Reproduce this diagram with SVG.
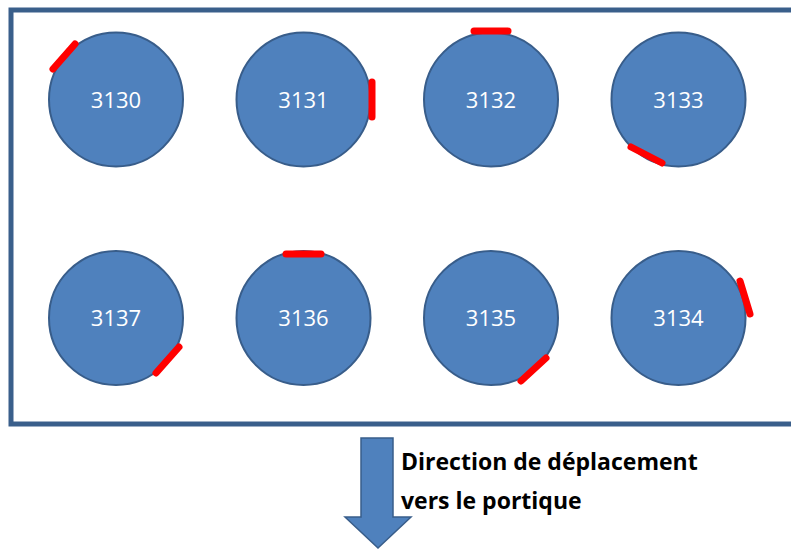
<svg xmlns="http://www.w3.org/2000/svg" width="791" height="550" viewBox="0 0 791 550">
<style>
.c{fill:#4F81BD;stroke:#385D8A;stroke-width:2}
.m{stroke:#FF0000;stroke-width:7;stroke-linecap:round;fill:none}
.t{font-family:"Open Sans",sans-serif;font-size:22px;fill:#FFFFFF;text-anchor:middle}
.b{font-family:"Open Sans",sans-serif;font-size:23px;font-weight:bold;fill:#000000}
</style>
<rect x="0" y="0" width="791" height="550" fill="#FFFFFF"/>
<rect id="frame" x="11" y="10" width="800" height="414" fill="none" stroke="#3A5F8B" stroke-width="5"/>
<g id="n3130"><circle class="c" cx="116" cy="99.5" r="67"/><line class="m" x1="53" y1="69" x2="75" y2="44"/><text class="t" x="116" y="107.5">3130</text></g>
<g id="n3131"><circle class="c" cx="303.5" cy="99.5" r="67"/><line class="m" x1="372" y1="82" x2="372" y2="117"/><text class="t" x="303.5" y="107.5">3131</text></g>
<g id="n3132"><circle class="c" cx="491" cy="99.5" r="67"/><line class="m" x1="474" y1="31" x2="508" y2="31"/><text class="t" x="491" y="107.5">3132</text></g>
<g id="n3133"><circle class="c" cx="678.5" cy="99.5" r="67"/><line class="m" x1="631" y1="147" x2="662" y2="163"/><text class="t" x="678.5" y="107.5">3133</text></g>
<g id="n3137"><circle class="c" cx="116" cy="318" r="67"/><line class="m" x1="179" y1="347" x2="156" y2="373"/><text class="t" x="116" y="326">3137</text></g>
<g id="n3136"><circle class="c" cx="303.5" cy="318" r="67"/><line class="m" x1="286" y1="254" x2="321" y2="254"/><text class="t" x="303.5" y="326">3136</text></g>
<g id="n3135"><circle class="c" cx="491" cy="318" r="67"/><line class="m" x1="546" y1="358" x2="521" y2="381"/><text class="t" x="491" y="326">3135</text></g>
<g id="n3134"><circle class="c" cx="678.5" cy="318" r="67"/><line class="m" x1="740" y1="281" x2="750" y2="314"/><text class="t" x="678.5" y="326">3134</text></g>
<g id="connectors">
<path id="arrow" d="M361,438 L393,438 L393,517 L411,517 L378,548 L345,517 L361,517 Z" fill="#4F81BD" stroke="#385D8A" stroke-width="1.5"/>
</g>
<g id="label">
<text class="b" x="401" y="470">Direction de déplacement</text>
<text class="b" x="401" y="509">vers le portique</text>
</g>
</svg>
